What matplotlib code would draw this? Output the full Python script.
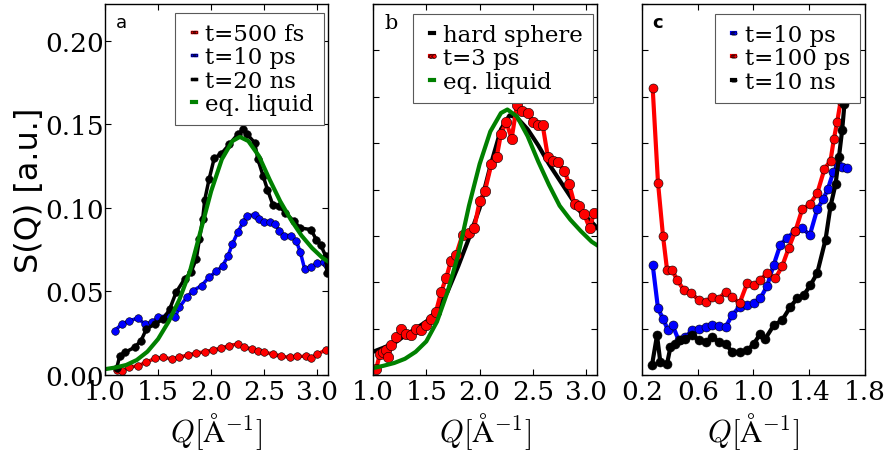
import numpy as np
import matplotlib
matplotlib.use("Agg")
from matplotlib import pyplot as plt

# panel a
a_q_500fs = [1.11, 1.16, 1.23, 1.31, 1.39, 1.47, 1.55, 1.63, 1.70, 1.78, 1.86, 1.94, 2.02, 2.09,
             2.17, 2.25, 2.31, 2.38, 2.44, 2.50, 2.58, 2.66, 2.74, 2.81, 2.89, 2.94, 3.00, 3.08]
a_s_500fs = [0.0030, 0.0026, 0.0046, 0.0056, 0.0076, 0.0100, 0.0106, 0.0096, 0.0106, 0.0120,
             0.0130, 0.0140, 0.0150, 0.0160, 0.0176, 0.0186, 0.0166, 0.0156, 0.0146, 0.0136,
             0.0126, 0.0112, 0.0106, 0.0112, 0.0112, 0.0100, 0.0126, 0.0150]

a_q_10ps = [1.09, 1.16, 1.23, 1.31, 1.375, 1.44, 1.50, 1.58, 1.66, 1.70, 1.77, 1.83, 1.91, 1.98,
            2.05, 2.11, 2.16, 2.20, 2.25, 2.30, 2.34, 2.41, 2.45, 2.50, 2.55, 2.60, 2.64, 2.69,
            2.75, 2.80, 2.84, 2.88, 2.94, 3.00, 3.06, 3.09]
a_s_10ps = [0.0265, 0.0305, 0.0325, 0.0340, 0.0305, 0.0315, 0.0345, 0.0355, 0.0345, 0.0405,
            0.0465, 0.0505, 0.0535, 0.0585, 0.0620, 0.0655, 0.0715, 0.0784, 0.0854, 0.0914,
            0.0954, 0.0958, 0.0934, 0.0914, 0.0918, 0.0904, 0.0864, 0.0834, 0.0834, 0.0804,
            0.0735, 0.0635, 0.0645, 0.0670, 0.0675, 0.0660]

a_q_20ns = [1.11, 1.14, 1.19, 1.28, 1.34, 1.39, 1.47, 1.55, 1.61, 1.67, 1.75, 1.81, 1.86, 1.89,
            1.92, 1.94, 1.98, 2.03, 2.09, 2.17, 2.25, 2.30, 2.34, 2.41, 2.44, 2.49, 2.53, 2.58,
            2.64, 2.70, 2.78, 2.84, 2.94, 2.99, 3.03, 3.08, 3.09]
a_s_20ns = [0.0040, 0.0116, 0.0136, 0.0166, 0.0206, 0.0275, 0.0305, 0.0335, 0.0395, 0.0495,
            0.0575, 0.0615, 0.0695, 0.0814, 0.0934, 0.1050, 0.1170, 0.1300, 0.1320, 0.1380,
            0.1440, 0.1470, 0.1440, 0.1390, 0.1290, 0.1190, 0.1110, 0.1020, 0.1010, 0.0970,
            0.0920, 0.0880, 0.0870, 0.0810, 0.0780, 0.0710, 0.0610]

a_q_liq = [1.00, 1.10, 1.20, 1.30, 1.40, 1.50, 1.60, 1.70, 1.80, 1.90, 2.00, 2.10, 2.20, 2.27,
           2.35, 2.45, 2.55, 2.65, 2.75, 2.85, 2.95, 3.05, 3.10]
a_s_liq = [0.0035, 0.0045, 0.0060, 0.0090, 0.0140, 0.0215, 0.0320, 0.0450, 0.0620, 0.0860,
           0.1100, 0.1290, 0.1400, 0.1425, 0.1400, 0.1310, 0.1170, 0.1040, 0.0930, 0.0835,
           0.0760, 0.0700, 0.0680]

# panel b
b_q_hs = [1.00, 1.10, 1.20, 1.30, 1.40, 1.50, 1.60, 1.70, 1.80, 1.90, 2.00, 2.10, 2.20, 2.28,
          2.35, 2.45, 2.55, 2.65, 2.75, 2.85, 2.95, 3.05, 3.10]
b_s_hs = [0.0100, 0.0118, 0.0138, 0.0170, 0.0200, 0.0230, 0.0280, 0.0360, 0.0470, 0.0590,
          0.0720, 0.0900, 0.1060, 0.1120, 0.1110, 0.1060, 0.0990, 0.0910, 0.0840, 0.0770,
          0.0700, 0.0660, 0.0635]

b_q_3ps = [1.03, 1.065, 1.093, 1.125, 1.14, 1.17, 1.22, 1.265, 1.31, 1.36, 1.405, 1.45, 1.50,
           1.545, 1.59, 1.64, 1.685, 1.73, 1.78, 1.84, 1.90, 1.95, 2.00, 2.05, 2.11, 2.16, 2.20,
           2.25, 2.30, 2.35, 2.40, 2.45, 2.50, 2.545, 2.59, 2.64, 2.685, 2.73, 2.795, 2.84, 2.89,
           2.935, 2.98, 3.03, 3.075]
b_s_3ps = [0.0026, 0.0091, 0.0099, 0.0106, 0.0077, 0.0128, 0.0164, 0.0200, 0.0178, 0.0171,
           0.0200, 0.0193, 0.0214, 0.0243, 0.0272, 0.0360, 0.0417, 0.0490, 0.0519, 0.0606,
           0.0613, 0.0635, 0.0750, 0.0794, 0.0910, 0.0940, 0.1040, 0.1090, 0.1020, 0.1165,
           0.1140, 0.1130, 0.1090, 0.1080, 0.1080, 0.0940, 0.0925, 0.0917, 0.0880, 0.0823,
           0.0736, 0.0729, 0.0693, 0.0635, 0.0700]

b_q_liq = [1.00, 1.10, 1.20, 1.30, 1.40, 1.50, 1.60, 1.70, 1.80, 1.90, 2.00, 2.10, 2.20, 2.26,
           2.35, 2.45, 2.55, 2.65, 2.75, 2.85, 2.95, 3.05, 3.10]
b_s_liq = [0.0030, 0.0040, 0.0052, 0.0070, 0.0100, 0.0145, 0.0230, 0.0360, 0.0520, 0.0730,
           0.0910, 0.1050, 0.1130, 0.1145, 0.1115, 0.1030, 0.0920, 0.0820, 0.0730, 0.0670,
           0.0620, 0.0575, 0.0560]

# panel c
c_q_10ps = [0.277, 0.315, 0.351, 0.387, 0.42, 0.464, 0.512, 0.56, 0.608, 0.656, 0.704, 0.752,
            0.80, 0.847, 0.90, 0.955, 1.003, 1.049, 1.097, 1.145, 1.193, 1.24, 1.30, 1.349,
            1.404, 1.457, 1.50, 1.533, 1.572, 1.605, 1.636, 1.672]
c_s_10ps = [0.0475, 0.0287, 0.0243, 0.0193, 0.0214, 0.0149, 0.0164, 0.0193, 0.0200, 0.0207,
            0.0214, 0.0212, 0.0207, 0.0258, 0.0294, 0.0301, 0.0310, 0.0330, 0.0383, 0.0475,
            0.0562, 0.0591, 0.0620, 0.0635, 0.0603, 0.0714, 0.0758, 0.0801, 0.0874, 0.0907,
            0.0896, 0.0893]

c_q_100ps = [0.277, 0.315, 0.351, 0.38, 0.416, 0.452, 0.50, 0.555, 0.608, 0.656, 0.704, 0.752,
             0.80, 0.847, 0.90, 0.955, 1.003, 1.049, 1.097, 1.157, 1.205, 1.253, 1.30, 1.349,
             1.404, 1.457, 1.509, 1.553, 1.577, 1.60, 1.625, 1.65, 1.68]
c_s_100ps = [0.1236, 0.0830, 0.0599, 0.0454, 0.0454, 0.0410, 0.0367, 0.0352, 0.0323, 0.0313,
             0.0338, 0.0328, 0.0360, 0.0338, 0.0309, 0.0396, 0.0388, 0.0410, 0.0439, 0.0417,
             0.0468, 0.0548, 0.0620, 0.0714, 0.0736, 0.0783, 0.0888, 0.0925, 0.1019, 0.1090,
             0.1180, 0.1280, 0.1450]

c_q_10ns = [0.272, 0.308, 0.332, 0.38, 0.404, 0.44, 0.476, 0.512, 0.56, 0.608, 0.656, 0.704,
            0.752, 0.80, 0.847, 0.90, 0.955, 1.003, 1.049, 1.085, 1.145, 1.205, 1.265, 1.313,
            1.361, 1.409, 1.457, 1.517, 1.553, 1.589, 1.613, 1.636, 1.653, 1.672, 1.69]
c_s_10ns = [0.0043, 0.0171, 0.0055, 0.0048, 0.0120, 0.0135, 0.0149, 0.0157, 0.0174, 0.0149,
            0.0142, 0.0164, 0.0142, 0.0135, 0.0099, 0.0099, 0.0106, 0.0135, 0.0178, 0.0157,
            0.0214, 0.0236, 0.0294, 0.0330, 0.0345, 0.0388, 0.0439, 0.0584, 0.0729, 0.0823,
            0.0939, 0.1055, 0.1170, 0.1287, 0.1500]

plt.rcParams['font.family'] = ['DejaVu Serif']
plt.rcParams['mathtext.fontset'] = 'cm'

GREEN = '#008000'
XLABEL = r'$Q[\mathrm{\AA}^{-1}]$'


def style_axes(ax):
    ax.tick_params(direction='in', top=True, right=True, length=4, width=0.8,
                   labelsize=19, pad=3)
    ax.tick_params(axis='y', pad=1)
    for s in ax.spines.values():
        s.set_linewidth(1.0)
    ax.set_xlabel(XLABEL, fontsize=22, labelpad=4)


def add_legend(ax, anchor):
    leg = ax.legend(loc='upper right', bbox_to_anchor=anchor, borderaxespad=0,
                    fontsize=16.5, handlelength=0.75, handletextpad=0.1, labelspacing=0.05,
                    borderpad=0.45, markerscale=0.35, numpoints=4, fancybox=False,
                    framealpha=1)
    leg.get_frame().set_edgecolor('0.35')
    leg.get_frame().set_linewidth(0.8)
    return leg


fig = plt.figure(figsize=(8.91, 4.56), dpi=100)

# a
ax = fig.add_axes([0.1178, 0.1754, 0.2503, 0.8136])
mk = dict(marker='o', ms=5.5, mec='k', mew=0.4, lw=2.5)
ax.plot(a_q_500fs, a_s_500fs, color='r', label='t=500 fs', **mk)
ax.plot(a_q_10ps, a_s_10ps, color='b', label='t=10 ps', **mk)
ax.plot(a_q_20ns, a_s_20ns, color='k', label='t=20 ns', **mk)
ax.plot(a_q_liq, a_s_liq, color=GREEN, lw=3, label='eq. liquid')
ax.set_xlim(1.0, 3.1)
ax.set_ylim(0, 0.222)
ax.set_xticks([1.0, 1.5, 2.0, 2.5, 3.0])
ax.set_yticks([0.0, 0.05, 0.10, 0.15, 0.20])
ax.set_xticklabels(['1.0', '1.5', '2.0', '2.5', '3.0'])
ax.set_yticklabels(['0.00', '0.05', '0.10', '0.15', '0.20'])
style_axes(ax)
ax.set_ylabel('S(Q) [a.u.]', fontsize=23, family='DejaVu Sans', labelpad=0)
ax.text(0.05, 0.975, 'a', transform=ax.transAxes, fontsize=13, family='DejaVu Sans',
        va='top', ha='left')
add_legend(ax, (0.982, 0.976))

# b
ax = fig.add_axes([0.4186, 0.1754, 0.2514, 0.8136])
ax.plot(b_q_hs, b_s_hs, color='k', lw=3, label='hard sphere')
ax.plot(b_q_3ps, b_s_3ps, color='r', marker='o', ms=7.5, mec='k', mew=0.4, lw=3,
        label='t=3 ps')
ax.plot(b_q_liq, b_s_liq, color=GREEN, lw=3, label='eq. liquid')
ax.set_xlim(1.0, 3.1)
ax.set_ylim(0, 0.16)
ax.set_xticks([1.0, 1.5, 2.0, 2.5, 3.0])
ax.set_xticklabels(['1.0', '1.5', '2.0', '2.5', '3.0'])
ax.set_yticks(np.arange(0, 0.161, 0.02))
ax.set_yticklabels([])
style_axes(ax)
ax.text(0.05, 0.975, 'b', transform=ax.transAxes, fontsize=15, va='top', ha='left')
add_legend(ax, (0.982, 0.973))

# c
ax = fig.add_axes([0.7205, 0.1754, 0.2503, 0.8136])
mk = dict(marker='o', ms=6.5, mec='k', mew=0.4, lw=3)
ax.plot(c_q_10ps, c_s_10ps, color='b', label='t=10 ps', **mk)
ax.plot(c_q_100ps, c_s_100ps, color='r', label='t=100 ps', **mk)
ax.plot(c_q_10ns, c_s_10ns, color='k', label='t=10 ns', **mk)
ax.set_xlim(0.2, 1.8)
ax.set_ylim(0, 0.16)
ax.set_xticks([0.2, 0.6, 1.0, 1.4, 1.8])
ax.set_xticklabels(['0.2', '0.6', '1.0', '1.4', '1.8'])
ax.set_yticks(np.arange(0, 0.161, 0.02))
ax.set_yticklabels([])
style_axes(ax)
ax.text(0.045, 0.975, 'c', transform=ax.transAxes, fontsize=13, family='DejaVu Sans',
        fontweight='bold', va='top', ha='left')
add_legend(ax, (0.978, 0.973))

fig.savefig('out.png', dpi=100)
